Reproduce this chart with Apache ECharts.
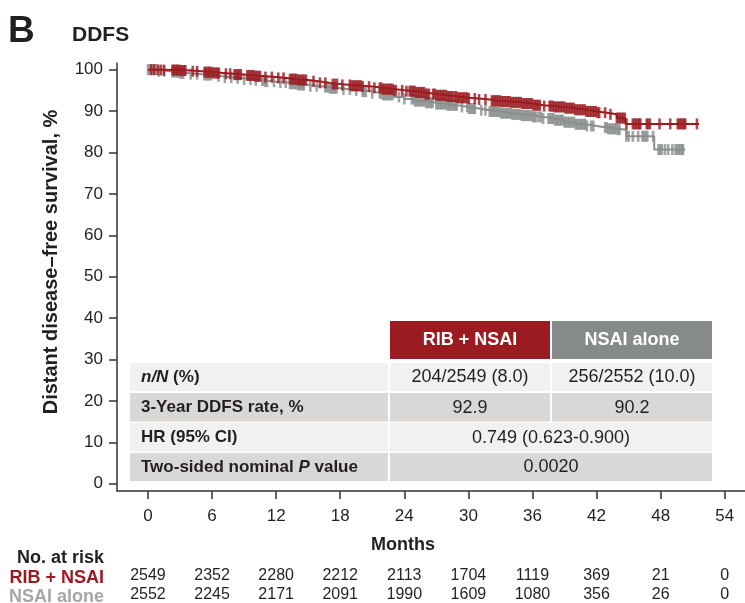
<!DOCTYPE html>
<html><head><meta charset="utf-8">
<script src="https://cdn.jsdelivr.net/npm/echarts@6/dist/echarts.min.js"></script>
<style>html,body{margin:0;padding:0;background:#fff}#c{width:745px;height:603px}</style>
</head><body><div id="c"></div>
<script>
// ---- data ----
var monthTicks = [0, 6, 12, 18, 24, 30, 36, 42, 48, 54];
var survivalTicks = [0, 10, 20, 30, 40, 50, 60, 70, 80, 90, 100];
var riskRib = [2549, 2352, 2280, 2212, 2113, 1704, 1119, 369, 21, 0];
var riskNsai = [2552, 2245, 2171, 2091, 1990, 1609, 1080, 356, 26, 0];
// KM step curves: [month, survival %]
var curveRib = [[0,100],[1,99.9],[3,99.8],[4,99.6],[5,99.4],[6,99.2],[7,99.0],[8,98.8],[9,98.6],[10,98.4],[11,98.2],[12,98.0],[13,97.7],[14,97.5],[15,97.2],[16,96.8],[17,96.5],[18,96.3],[19,96.1],[20,95.9],[21,95.6],[22,95.3],[23,95.0],[24,94.8],[25,94.5],[26,94.1],[27,93.8],[28,93.5],[29,93.2],[30,93.0],[31,92.8],[32,92.5],[33,92.3],[34,92.1],[35,91.8],[36,91.4],[37,91.2],[38,91.0],[39,90.7],[40,90.3],[41,89.9],[42,89.6],[43,89.2],[43.9,88.3],[44.7,86.9],[51.6,86.9]];
var curveNsai = [[0,100],[1,99.6],[2,99.4],[3,99.1],[4,98.9],[5,98.7],[6,98.4],[7,98.1],[8,97.9],[9,97.6],[10,97.4],[11,97.1],[12,96.9],[13,96.6],[14,96.3],[15,96.0],[16,95.8],[17,95.5],[18,95.2],[19,95.0],[20,94.7],[21,94.3],[22,93.9],[23,93.4],[24,92.9],[25,92.4],[26,92.0],[27,91.7],[28,91.4],[29,91.0],[30,90.6],[31,90.2],[32,89.9],[33,89.5],[34,89.2],[35,88.9],[36,88.6],[37,88.2],[38,87.8],[39,87.3],[40,86.8],[41,86.4],[42,86.0],[43,85.7],[44,85.5],[44.8,83.9],[47.4,80.7],[50.3,80.7]];
// censoring times (months)
var censorRib = [0.3,0.6,0.9,1.2,1.5,
  2.3,2.45,2.6,2.75,2.9,3.05,3.2,3.35,3.5,4.2,4.6,
  5.3,5.45,5.6,5.75,5.9,6.05,6.2,6.35,6.5,6.65,7.3,7.7,
  8.1,8.25,8.4,8.55,8.7,9.3,9.45,9.6,9.75,9.9,10.05,10.2,10.35,10.5,
  11.0,11.6,12.2,12.7,
  13.3,13.45,13.6,13.75,13.9,14.05,14.2,14.35,14.5,14.65,14.8,
  15.5,16.1,16.6,17.3,17.5,17.7,18.2,
  18.9,19.05,19.2,19.35,19.5,19.65,19.8,19.95,20.1,20.7,21.2,
  21.7,21.85,22.0,22.15,22.3,22.45,22.6,22.75,22.9,23.05,23.2,23.8,24.2,
  24.5,24.65,24.8,24.95,25.1,25.25,25.4,25.55,25.7,25.85,26.0,26.15,26.3,
  26.7,26.85,27.0,27.15,27.3,27.45,27.6,27.75,27.9,28.05,28.2,28.35,28.5,
  28.7,28.85,29.0,29.15,29.3,29.45,29.6,29.75,29.9,30.05,
  30.6,31.0,31.6,32.2,32.35,32.5,32.65,
  32.8,32.95,33.1,33.25,33.4,33.55,33.7,33.85,34.0,34.15,34.3,34.45,34.6,34.75,34.9,35.05,35.2,35.35,35.5,35.65,35.8,35.95,36.1,36.25,36.4,36.55,36.7,
  37.1,
  37.6,37.75,37.9,38.05,38.2,38.35,38.5,38.65,38.8,38.95,39.1,39.25,39.4,39.55,39.7,39.85,40.0,40.15,40.3,40.45,40.6,40.75,40.9,41.05,41.2,41.35,41.5,41.65,41.8,41.95,42.1,42.25,
  42.8,43.3,
  43.9,44.05,44.2,44.35,44.5,44.65,44.8,
  45.4,45.55,45.7,45.85,46.0,46.1,46.7,46.85,47.0,47.9,48.9,
  49.6,49.75,49.9,50.05,50.2,50.3,51.4];
var censorNsai = [0.0,0.15,0.3,0.45,0.6,1.0,1.5,
  2.3,2.45,2.6,2.75,2.9,3.05,3.2,3.3,4.0,4.6,
  5.3,5.45,5.6,5.75,5.9,6.6,7.2,7.8,8.4,9.0,9.6,10.1,
  10.7,10.85,11.0,11.15,11.8,12.4,12.9,
  13.3,13.45,13.6,13.75,13.9,14.05,14.2,14.35,14.5,14.6,15.2,15.8,
  16.6,16.75,16.9,17.05,17.2,17.35,17.5,17.65,18.3,18.9,19.5,
  20.1,20.25,20.4,21.0,
  21.7,21.85,22.0,22.15,22.3,22.45,22.6,22.75,22.9,23.5,24.0,
  24.7,24.85,25.0,25.15,25.3,25.45,25.6,25.75,25.9,26.05,26.2,26.35,26.5,26.65,
  27.0,27.15,27.3,27.45,27.6,27.75,27.9,28.05,28.2,28.35,28.5,28.65,28.8,28.9,
  29.4,29.9,30.05,30.2,30.35,30.5,30.6,31.2,31.6,
  32.0,32.15,32.3,32.45,32.6,32.75,32.9,33.05,33.2,33.35,33.5,33.65,33.8,33.95,34.1,34.25,34.4,34.55,34.7,34.85,35.0,35.15,35.3,35.45,35.6,35.75,35.9,36.05,36.2,36.35,
  36.6,36.8,37.0,
  37.5,37.65,37.8,37.95,38.1,38.25,38.4,38.55,38.7,38.85,39.0,39.15,39.3,39.45,39.6,39.75,39.9,40.05,40.2,40.35,40.5,40.65,40.8,40.95,41.1,
  41.5,41.7,
  42.8,42.95,43.1,43.25,43.4,43.55,43.7,43.85,44.0,44.15,
  44.8,45.0,45.4,45.9,46.3,46.45,46.6,46.75,47.3,
  47.8,47.95,48.1,48.4,48.7,49.1,49.4,49.55,49.7,49.85,50.0,50.1];

var RED = '#9b1b20', GRAY = '#8a8e8d', GRAYTXT = '#a5a7a7';
function stepValue(curve, t){ var v = curve[0][1]; for (var i=0;i<curve.length;i++){ if (curve[i][0] <= t) v = curve[i][1]; } return v; }
function censorPts(curve, times){ return times.map(function(t){ return [t, stepValue(curve, t)]; }); }

var FONT = '"Liberation Sans", Arial, sans-serif';
var TXT = '#231f20';
var chart = echarts.init(document.getElementById('c'), null, {renderer:'canvas'});

// table geometry helpers
var cols = [[130,388],[390,550],[552,712]];
var rows = [[363,391],[393,421.5],[423,451.5],[453,481]];
var rowFill = ['#f0f1f2','#d9d8d6','#f0f1f2','#d9d8d6'];
var tableLabels = ['{bi|n/N} (%)', '3-Year DDFS rate, %', 'HR (95% CI)', 'Two-sided nominal {bi|P} value'];
var tableVals = [['204/2549 (8.0)','256/2552 (10.0)'],['92.9','90.2'],['0.749 (0.623-0.900)'],['0.0020']];
var headers = ['RIB + NSAI','NSAI alone'];

var g = [];
g.push({type:'text', left:8, top:13, style:{text:'B', font:'bold 37px '+FONT, fill:TXT}});
g.push({type:'text', left:72, top:25, style:{text:'DDFS', font:'bold 21px '+FONT, fill:TXT}});
// header cells
g.push({type:'rect', shape:{x:cols[1][0], y:321, width:cols[1][1]-cols[1][0], height:38}, style:{fill:'#9b1c20'}});
g.push({type:'rect', shape:{x:cols[2][0], y:321, width:cols[2][1]-cols[2][0], height:38}, style:{fill:'#868a89'}});
for (var h=0;h<2;h++){
  g.push({type:'text', x:(cols[h+1][0]+cols[h+1][1])/2, y:340, style:{text:headers[h], font:'bold 18px '+FONT, fill:'#fff', align:'center', verticalAlign:'middle'}});
}
for (var r=0;r<4;r++){
  var y0 = rows[r][0], hh = rows[r][1]-rows[r][0], yc = y0+hh/2+0.5;
  g.push({type:'rect', shape:{x:cols[0][0], y:y0, width:cols[0][1]-cols[0][0], height:hh}, style:{fill:rowFill[r]}});
  if (tableVals[r].length===2){
    g.push({type:'rect', shape:{x:cols[1][0], y:y0, width:cols[1][1]-cols[1][0], height:hh}, style:{fill:rowFill[r]}});
    g.push({type:'rect', shape:{x:cols[2][0], y:y0, width:cols[2][1]-cols[2][0], height:hh}, style:{fill:rowFill[r]}});
    g.push({type:'text', x:(cols[1][0]+cols[1][1])/2, y:yc, style:{text:tableVals[r][0], font:'18px '+FONT, fill:TXT, align:'center', verticalAlign:'middle'}});
    g.push({type:'text', x:(cols[2][0]+cols[2][1])/2, y:yc, style:{text:tableVals[r][1], font:'18px '+FONT, fill:TXT, align:'center', verticalAlign:'middle'}});
  } else {
    g.push({type:'rect', shape:{x:cols[1][0], y:y0, width:cols[2][1]-cols[1][0], height:hh}, style:{fill:rowFill[r]}});
    g.push({type:'text', x:(cols[1][0]+cols[2][1])/2, y:yc, style:{text:tableVals[r][0], font:'18px '+FONT, fill:TXT, align:'center', verticalAlign:'middle'}});
  }
  g.push({type:'text', x:141, y:yc, style:{text:tableLabels[r], font:'bold 17px '+FONT, fill:TXT, align:'left', verticalAlign:'middle', rich:{bi:{fontStyle:'italic', fontWeight:'bold', fontSize:17, fontFamily:FONT, fill:TXT}}}});
}
// axis names and risk table labels
g.push({type:'text', x:403, y:545, style:{text:'Months', font:'bold 18px '+FONT, fill:TXT, align:'center', verticalAlign:'middle'}});
g.push({type:'text', x:51, y:262, rotation:Math.PI/2, style:{text:'Distant disease\u2013free survival, %', font:'bold 20px '+FONT, fill:TXT, align:'center', verticalAlign:'middle'}});
g.push({type:'text', x:104, y:558, style:{text:'No. at risk', font:'bold 18px '+FONT, fill:TXT, align:'right', verticalAlign:'middle'}});
g.push({type:'text', x:104, y:578, style:{text:'RIB + NSAI', font:'bold 18px '+FONT, fill:RED, align:'right', verticalAlign:'middle'}});
g.push({type:'text', x:104, y:597, style:{text:'NSAI alone', font:'bold 18px '+FONT, fill:GRAYTXT, align:'right', verticalAlign:'middle'}});

var axisLineStyle = {color:'#333', width:1.5};
function riskAxis(arr, offset){
  return {type:'value', position:'bottom', min:-2.9, max:55.9, offset:offset,
    axisLine:{show:false}, axisTick:{show:false}, splitLine:{show:false},
    axisLabel:{customValues:monthTicks, margin:0, color:TXT, fontSize:16, fontFamily:FONT, verticalAlign:'middle',
      formatter:function(v){ var i = monthTicks.indexOf(Math.round(v)); return i>=0 ? String(arr[i]) : ''; }}};
}

chart.setOption({
  animation:false,
  backgroundColor:'#fff',
  grid:{left:117, right:0, top:63, height:431, containLabel:false},
  xAxis:[
    {type:'value', min:-2.9, max:55.9, position:'bottom',
      axisLine:{show:true, onZero:false, lineStyle:axisLineStyle},
      axisTick:{show:true, customValues:monthTicks, length:8, lineStyle:axisLineStyle},
      axisLabel:{customValues:monthTicks, margin:17, color:TXT, fontSize:17, fontFamily:FONT},
      splitLine:{show:false}},
    riskAxis(riskRib, 85),
    riskAxis(riskNsai, 104)
  ],
  yAxis:{type:'value', min:-1.75, max:101.6,
    axisLine:{show:true, onZero:false, lineStyle:axisLineStyle},
    axisTick:{show:true, customValues:survivalTicks, length:8, lineStyle:axisLineStyle},
    axisLabel:{customValues:survivalTicks, margin:14, color:TXT, fontSize:17, fontFamily:FONT},
    splitLine:{show:false}},
  graphic:g,
  series:[
    {type:'line', step:'end', data:curveNsai, symbol:'none', lineStyle:{color:GRAY, width:2}, z:2},
    {type:'line', step:'end', data:curveRib, symbol:'none', lineStyle:{color:RED, width:2}, z:3},
    {type:'scatter', data:censorPts(curveNsai, censorNsai), symbol:'rect', symbolSize:[2.6,11], itemStyle:{color:GRAY}, z:2},
    {type:'scatter', data:censorPts(curveRib, censorRib), symbol:'rect', symbolSize:[2.6,11], itemStyle:{color:RED}, z:3}
  ]
});
</script></body></html>
